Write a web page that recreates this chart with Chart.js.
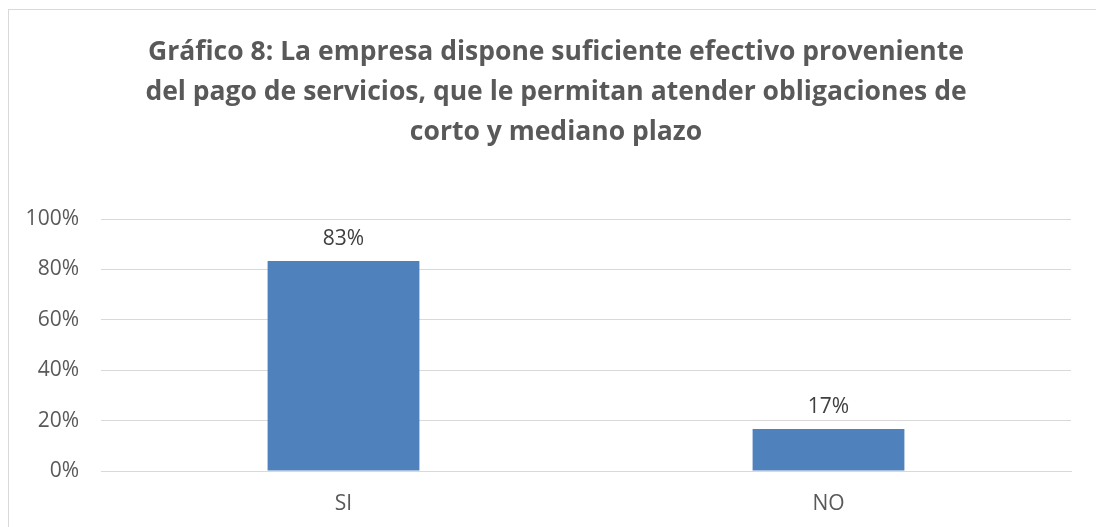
<!DOCTYPE html>
<html>
<head>
<meta charset="utf-8">
<script src="https://cdn.jsdelivr.net/npm/chart.js@4/dist/chart.umd.min.js"></script>
<style>
  html, body { margin: 0; padding: 0; background: #fff; }
  #wrap { position: relative; width: 1096px; height: 527px; overflow: hidden; }
  #frame { position: absolute; left: 8px; top: 9px; width: 1200px; height: 600px; border: 1px solid #d9d9d9; box-sizing: border-box; }
  canvas { position: absolute; left: 0; top: 0; }
</style>
</head>
<body>
<div id="wrap">
  <div id="frame"></div>
  <canvas id="c" width="1096" height="527"></canvas>
</div>
<script>
const titleLines = [
  "Gráfico 8: La empresa dispone suficiente efectivo proveniente",
  "del pago de servicios, que le permitan atender obligaciones de",
  "corto y mediano plazo"
];
const categories = ["SI", "NO"];
const values = [83.33, 16.67];
const valueLabels = ["83%", "17%"];
const yTicks = [0, 20, 40, 60, 80, 100];

const FONT = "'Open Sans', 'Liberation Sans', sans-serif";

const dataLabelPlugin = {
  id: 'dataLabels',
  afterLayout(chart) {
    if (chart.titleBlock) {
      chart.titleBlock.left = 41;
      chart.titleBlock.right = 1071;
    }
  },
  afterDatasetsDraw(chart) {
    const ctx = chart.ctx;
    const meta = chart.getDatasetMeta(0);
    ctx.save();
    ctx.font = "21px " + FONT;
    ctx.fillStyle = "#404040";
    ctx.textAlign = "center";
    ctx.textBaseline = "middle";
    meta.data.forEach((bar, i) => {
      ctx.fillText(valueLabels[i], bar.x, bar.y - 22);
    });
    ctx.restore();
  }
};

new Chart(document.getElementById('c'), {
  type: 'bar',
  data: {
    labels: categories,
    datasets: [{
      data: values,
      backgroundColor: '#4f81bd',
      borderWidth: 0,
      barPercentage: 0.313,
      categoryPercentage: 1.0
    }]
  },
  options: {
    responsive: false,
    animation: false,
    devicePixelRatio: 1,
    layout: { padding: { left: 21, right: 25, top: 0, bottom: 0 } },
    plugins: {
      legend: { display: false },
      tooltip: { enabled: false },
      title: {
        display: true,
        text: titleLines,
        color: '#595959',
        font: { family: FONT, size: 26.5, weight: 'bold', lineHeight: 1.51 },
        padding: { top: 32, bottom: 67 }
      }
    },
    scales: {
      x: {
        grid: { display: false, drawTicks: false },
        border: { color: '#d9d9d9' },
        ticks: { color: '#595959', font: { family: FONT, size: 21 }, padding: 20 },
        afterFit(axis) { axis.height = 56; }
      },
      y: {
        min: 0, max: 100,
        afterBuildTicks(axis) { axis.ticks = yTicks.map(v => ({ value: v })); },
        afterFit(axis) { axis.width = 80; },
        grid: { color: '#d9d9d9', drawTicks: false },
        border: { display: false },
        ticks: {
          color: '#595959',
          font: { family: FONT, size: 21 },
          padding: 22,
          callback: v => v + '%'
        }
      }
    }
  },
  plugins: [dataLabelPlugin]
});
</script>
</body>
</html>
